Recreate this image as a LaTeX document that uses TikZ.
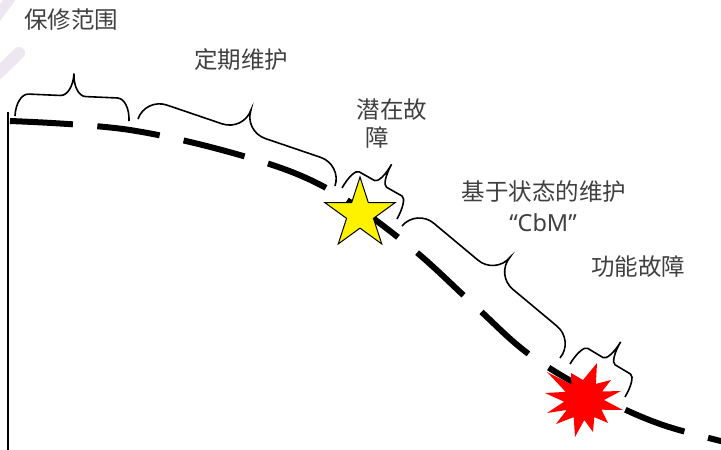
\documentclass[tikz,border=0pt]{standalone}
\usepackage{fontspec}
\setmainfont{Noto Sans}
\newfontfamily\cjk{Noto Sans CJK SC}
\newfontfamily\latinfont{Noto Sans}
\usetikzlibrary{shapes.geometric,decorations}

\pgfdeclaredecoration{pptbrace}{brace}{%
  \state{brace}[width=+\pgfdecoratedremainingdistance,next state=final]{%
    \pgfmathsetlengthmacro\bL{\pgfdecoratedpathlength}%
    \pgfmathsetlengthmacro\bR{0.11*\pgfdecoratedpathlength}%
    \pgfmathsetlengthmacro\bA{\pgfdecorationsegmentamplitude}%
    \pgfmathsetlengthmacro\bH{0.5*\pgfdecorationsegmentamplitude}%
    \pgfmathsetlengthmacro\bM{0.5*\bL-\bR}%
    \pgfmathsetlengthmacro\bE{\bL-\bR}%
    \pgfpathmoveto{\pgfpointorigin}%
    \pgfpatharc{180}{90}{\bR and \bH}%
    \pgfpathlineto{\pgfqpoint{\bM}{\bH}}%
    \pgfpatharc{270}{360}{\bR and \bH}%
    \pgfpatharc{180}{270}{\bR and \bH}%
    \pgfpathlineto{\pgfqpoint{\bE}{\bH}}%
    \pgfpatharc{90}{0}{\bR and \bH}%
  }%
  \state{final}{}%
}

\definecolor{lav}{RGB}{236,231,241}
\definecolor{txt}{RGB}{64,64,64}

\tikzset{
  lbl/.style={inner sep=0pt, text=txt, font=\cjk\fontsize{23.5}{28}\selectfont},
  pbr/.style={decorate, decoration={pptbrace, amplitude=45pt}, line width=1.6pt, black},
  curve/.style={line width=6pt, black, dash pattern=on 63pt off 24.5pt},
  stripe/.style={lav, line cap=round},
}

\begin{document}
\begin{tikzpicture}[x=1pt, y=-1pt]
\useasboundingbox (0,0) rectangle (721,450);
\fill[white] (0,0) rectangle (721,450);
\begin{scope}
\clip (0,0) rectangle (721,450);
% background stripes
\draw[stripe, line width=10pt] (-4,18) -- (13,-5);
\draw[stripe, line width=12pt] (-10,81) -- (19,53);

% axis
\coordinate (ax0) at (8,112);
\coordinate (ax1) at (8,452);
\draw[line width=1.6pt] (ax0) -- (ax1);

% degradation curve
\draw[curve] plot[smooth, tension=0.6] coordinates {(10,121) (130,130) (250,158) (330,190) (409,246) (474,305) (530,355) (600,397) (660,424) (725,442)};

% braces
\coordinate (b1s) at (15,116); \coordinate (b1e) at (129,121);
\coordinate (b2s) at (138,119); \coordinate (b2e) at (335,186);
\coordinate (b3s) at (342,188); \coordinate (b3e) at (397,219);
\coordinate (b4s) at (402,226); \coordinate (b4e) at (560,358);
\coordinate (b5s) at (570,364); \coordinate (b5e) at (625,397);
\draw[pbr] (b1s) -- (b1e);
\draw[pbr] (b2s) -- (b2e);
\draw[pbr] (b3s) -- (b3e);
\draw[pbr] (b4s) -- (b4e);
\draw[pbr] (b5s) -- (b5e);

% yellow star (potential failure)
\node[star, star points=5, star point ratio=2.618, minimum size=74pt, inner sep=0pt,
      fill=yellow, draw=black, line width=1pt] (ystar) at (360,214) {};

% red burst (functional failure)
\fill[red] (597,363) -- (595.9,383.9) -- (611,380) -- (602.1,391.5) -- (621,391) -- (604,400)
  -- (623,410) -- (601.5,409.7) -- (608,423) -- (594.3,417.1) -- (593,432) -- (584.3,420)
  -- (575,437) -- (573.7,417.1) -- (556,424) -- (566.7,410) -- (547,413) -- (564.1,401.7)
  -- (545,393) -- (565.7,391.9) -- (547,372) -- (571.4,384.5) -- (571,373) -- (583,380) -- cycle;
\end{scope}

% labels
\node[lbl] (t1) at (71,20) {保修范围};
\node[lbl] (t2) at (241,60) {定期维护};
\node[lbl] (t3a) at (392,110) {潜在故};
\node[lbl] (t3b) at (377,138) {障};
\node[lbl] (t4a) at (544,192) {基于状态的维护};
\node[lbl, font=\latinfont\fontsize{23.5}{28}\selectfont] (t4b) at (543,223) {“CbM”};
\node[lbl] (t5) at (638,267) {功能故障};
\end{tikzpicture}
\end{document}
